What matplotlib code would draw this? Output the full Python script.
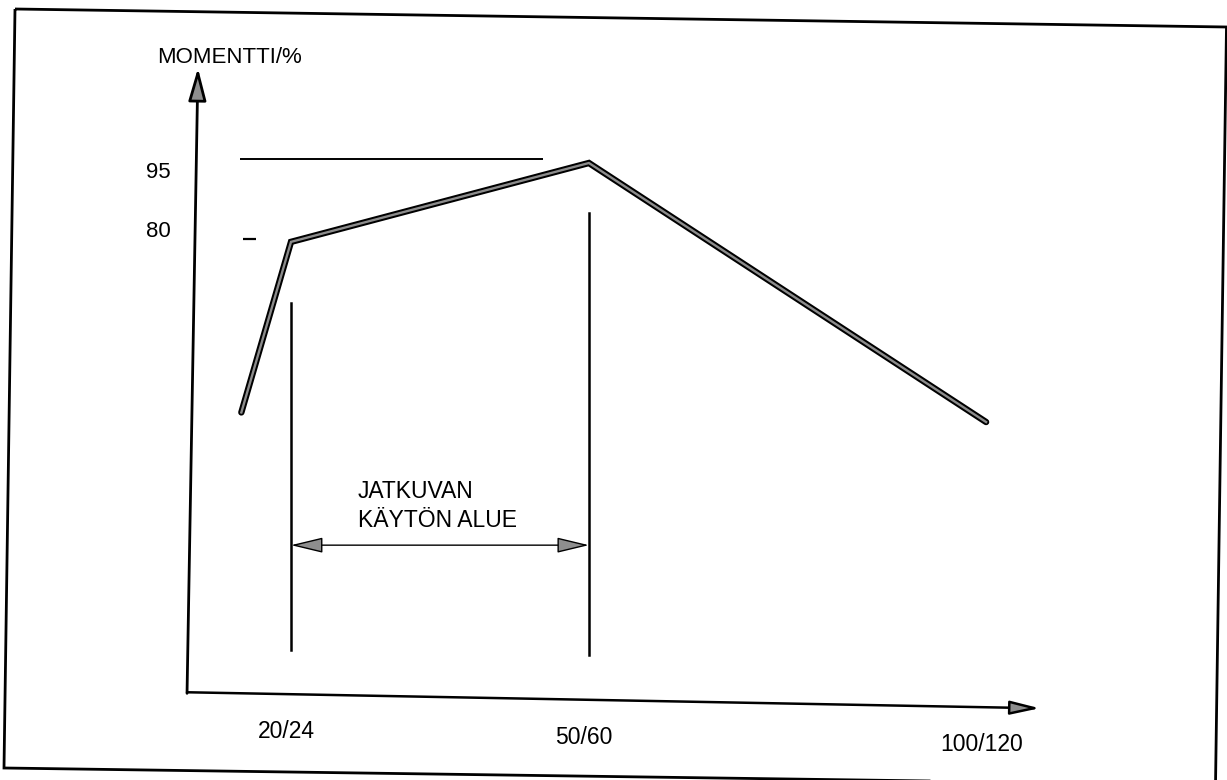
import matplotlib
matplotlib.use('Agg')
import matplotlib.pyplot as plt
from matplotlib.patches import Polygon

plt.rcParams['font.family'] = ['Liberation Sans', 'DejaVu Sans']

# schematic data (x: Hz position on drawing, y: torque %)
curve_x = [15, 20, 50, 90]
curve_y = [47.5, 79.5, 94.3, 45.7]

xtick_pos = [20, 50, 90]
xtick_lab = ['20/24', '50/60', '100/120']
ytick_pos = [95, 80]
ytick_lab = ['95', '80']

range_lo, range_hi = 20, 50          # continuous operating range
range_top = [68.0, 84.9]             # top of the two vertical lines
range_bot = [2.9, 2.0]
range_arrow_y = 22.6

line95 = [14.9, 45.4]
dash80 = [15.2, 16.5]

# axis ends (the scan is a little rotated)
yaxis_x = [9.53, 10.63]
yaxis_y = [-5.2, 112.1]
xaxis_x = [9.53, 95.4]
xaxis_y = [-5.0, -8.0]

W, H = 1227, 780
fig = plt.figure(figsize=(W / 100, H / 100), dpi=100)
fig.patch.set_facecolor('white')
ax = fig.add_axes([0, 0, 1, 1])
ax.set_xlim(-9.305, 114.26)
ax.set_ylim(-21.46, 124.88)
ax.axis('off')

# outer frame (pixels, slightly rotated like the scan)
frame_px = [(15, 9), (1226.5, 27), (1215.5, 785), (4, 768)]
frame = Polygon([(x / W, 1 - y / H) for x, y in frame_px], closed=True,
                fill=False, ec='black', lw=2.0, transform=fig.transFigure)
fig.add_artist(frame)

head_fc = '#8e8e8e'

# axes with arrows
ax.annotate('', xy=(yaxis_x[1], yaxis_y[1]), xytext=(yaxis_x[0], yaxis_y[0]),
            arrowprops=dict(arrowstyle='-|>,head_length=2.0,head_width=0.55',
                            mutation_scale=10, fc=head_fc, ec='black', lw=2.0,
                            shrinkA=0, shrinkB=0))
ax.annotate('', xy=(xaxis_x[1], xaxis_y[1]), xytext=(xaxis_x[0], xaxis_y[0]),
            arrowprops=dict(arrowstyle='-|>,head_length=1.8,head_width=0.42',
                            mutation_scale=10, fc=head_fc, ec='black', lw=1.8,
                            shrinkA=0, shrinkB=0))

# reference lines
ax.plot(line95, [95, 95], color='black', lw=1.4, solid_capstyle='butt')
ax.plot(dash80, [80, 80], color='black', lw=1.6, solid_capstyle='butt')

# range limits
ax.plot([range_lo, range_lo], [range_bot[0], range_top[0]], color='black', lw=1.8)
ax.plot([range_hi, range_hi], [range_bot[1], range_top[1]], color='black', lw=1.8)
ax.annotate('', xy=(range_hi, range_arrow_y), xytext=(range_lo, range_arrow_y),
            arrowprops=dict(arrowstyle='<|-|>,head_length=2.0,head_width=0.48',
                            mutation_scale=10, fc=head_fc, ec='black', lw=1.0,
                            shrinkA=0, shrinkB=0))

# torque curve (outlined grey line like the print)
ax.plot(curve_x, curve_y, color='black', lw=4.6, solid_joinstyle='miter',
        solid_capstyle='round')
ax.plot(curve_x, curve_y, color='#8c8c8c', lw=1.7, solid_joinstyle='miter')

# texts
ax.text(6.5, 113.06, 'MOMENTTI/%', fontsize=16, ha='left', va='baseline')
ax.text(6.6, 91.5, ytick_lab[0], fontsize=16, ha='center', va='baseline')
ax.text(6.6, 80.4, ytick_lab[1], fontsize=16, ha='center', va='baseline')

slope = (xaxis_y[1] - xaxis_y[0]) / (xaxis_x[1] - xaxis_x[0])
for xp, lab in zip(xtick_pos, xtick_lab):
    yb = xaxis_y[0] + slope * (xp - xaxis_x[0]) - 8.2
    ax.text(xp - 0.5, yb, lab, fontsize=16.5, ha='center', va='baseline')

ax.text(26.7, 31.4, 'JATKUVAN', fontsize=16.5, ha='left', va='baseline')
ax.text(26.7, 26.0, 'KÄYTÖN ALUE', fontsize=16.5, ha='left', va='baseline')

fig.savefig('out.png', dpi=100, facecolor='white')
